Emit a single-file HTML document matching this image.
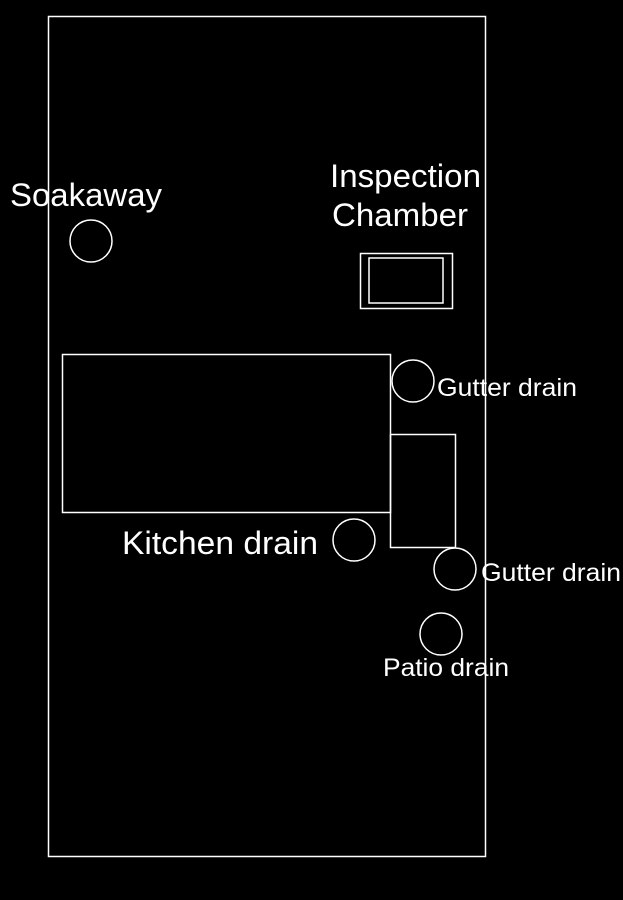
<!DOCTYPE html>
<html><head><style>html,body{margin:0;padding:0;background:#000;}svg{display:block}</style></head>
<body>
<svg width="623" height="900" viewBox="0 0 623 900" xmlns="http://www.w3.org/2000/svg">
<rect width="623" height="900" fill="#000"/>
<g fill="none" stroke="#fff" stroke-width="1.5">
<rect x="48.5" y="16.5" width="437" height="840"/>
<circle cx="91" cy="241" r="21"/>
<rect x="360.5" y="253.5" width="92" height="55"/>
<rect x="369" y="258" width="74" height="45"/>
<rect x="62.5" y="354.5" width="328" height="158"/>
<rect x="390.5" y="434.5" width="65" height="113"/>
<circle cx="413" cy="381" r="21"/>
<circle cx="354" cy="540" r="21"/>
<circle cx="455" cy="569" r="21"/>
<circle cx="441" cy="634" r="21"/>
</g>
<g fill="#fff" font-family="Liberation Sans, Arial, sans-serif">
<text x="10" y="206" font-size="32" textLength="152" lengthAdjust="spacingAndGlyphs">Soakaway</text>
<text x="330" y="187" font-size="32" textLength="151" lengthAdjust="spacingAndGlyphs">Inspection</text>
<text x="332" y="226" font-size="32" textLength="136" lengthAdjust="spacingAndGlyphs">Chamber</text>
<text x="437" y="396" font-size="25" textLength="140" lengthAdjust="spacingAndGlyphs">Gutter drain</text>
<text x="122" y="554" font-size="32" textLength="196" lengthAdjust="spacingAndGlyphs">Kitchen drain</text>
<text x="481" y="581" font-size="25" textLength="140" lengthAdjust="spacingAndGlyphs">Gutter drain</text>
<text x="383" y="676" font-size="25" textLength="126" lengthAdjust="spacingAndGlyphs">Patio drain</text>
</g>
</svg>
</body></html>
